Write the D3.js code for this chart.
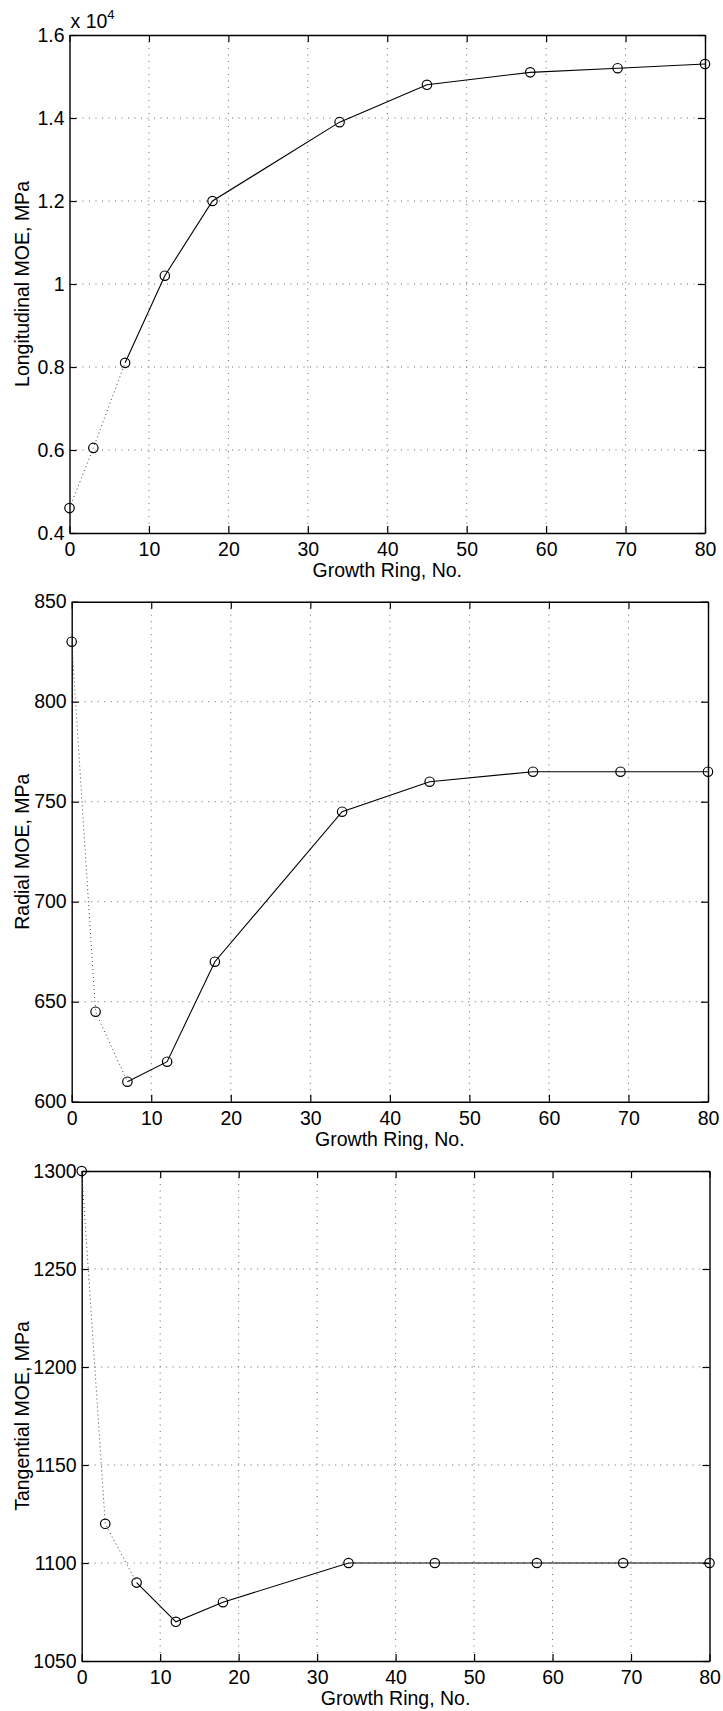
<!DOCTYPE html>
<html><head><meta charset="utf-8">
<script src="https://cdn.jsdelivr.net/npm/d3@7"></script>
<style>
body{margin:0;background:#fff;}
text{font-family:"Liberation Sans",Arial,Helvetica,sans-serif;fill:#000;}
</style></head>
<body>
<svg id="c" width="723" height="1711"></svg>
<script>
const rings = [0, 3, 7, 12, 18, 34, 45, 58, 69, 80];
const longitudinalMOE = [4600, 6050, 8100, 10200, 12000, 13900, 14800, 15100, 15200, 15300];
const radialMOE = [830, 645, 610, 620, 670, 745, 760, 765, 765, 765];
const tangentialMOE = [1300, 1120, 1090, 1070, 1080, 1100, 1100, 1100, 1100, 1100];
const xTicks = [0, 10, 20, 30, 40, 50, 60, 70, 80];
const longTicks = [4000, 6000, 8000, 10000, 12000, 14000, 16000];
const radialTicks = [600, 650, 700, 750, 800, 850];
const tangTicks = [1050, 1100, 1150, 1200, 1250, 1300];
const xLabel = "Growth Ring, No.";
const dottedUntil = 2; // index where dotted part ends (ring 7)

const panels = [
  {box:[69.5,705,35,533], yDom:[4000,16000], yTicks:longTicks, vals:longitudinalMOE,
   yLabel:"Longitudinal MOE, MPa", fmt:d=>d===10000?"1":(d/10000).toFixed(1), exp:true},
  {box:[71.7,708,601.7,1101.7], yDom:[600,850], yTicks:radialTicks, vals:radialMOE,
   yLabel:"Radial MOE, MPa", fmt:d=>String(d)},
  {box:[81.7,709.5,1171,1661], yDom:[1050,1300], yTicks:tangTicks, vals:tangentialMOE,
   yLabel:"Tangential MOE, MPa", fmt:d=>String(d)}
];

const svg = d3.select("#c");
const FS = 19.5;

panels.forEach(p => {
  const [L,R,T,B] = p.box;
  const x = d3.scaleLinear().domain([0,80]).range([L,R]);
  const y = d3.scaleLinear().domain(p.yDom).range([B,T]);
  const g = svg.append("g");

  // grid
  g.append("g").selectAll("line").data(xTicks.slice(1,-1)).join("line")
    .attr("x1",d=>x(d)).attr("x2",d=>x(d)).attr("y1",T).attr("y2",B)
    .attr("stroke","#666").attr("stroke-width",1).attr("stroke-dasharray","1,5.5");
  g.append("g").selectAll("line").data(p.yTicks.slice(1,-1)).join("line")
    .attr("x1",L).attr("x2",R).attr("y1",d=>y(d)).attr("y2",d=>y(d))
    .attr("stroke","#666").attr("stroke-width",1).attr("stroke-dasharray","1,5.5");

  // axes via d3 axis (inner ticks)
  const ax = [
    g.append("g").attr("transform",`translate(0,${B})`).call(d3.axisBottom(x).tickValues(xTicks).tickSizeInner(-7).tickSizeOuter(0).tickPadding(9)),
    g.append("g").attr("transform",`translate(0,${T})`).call(d3.axisTop(x).tickValues(xTicks).tickSizeInner(-7).tickSizeOuter(0).tickFormat("")),
    g.append("g").attr("transform",`translate(${L},0)`).call(d3.axisLeft(y).tickValues(p.yTicks).tickSizeInner(-7).tickSizeOuter(0).tickPadding(5).tickFormat(p.fmt)),
    g.append("g").attr("transform",`translate(${R},0)`).call(d3.axisRight(y).tickValues(p.yTicks).tickSizeInner(-7).tickSizeOuter(0).tickFormat(""))
  ];
  ax.forEach(a => {
    a.select(".domain").attr("stroke","#000").attr("stroke-width",1.4);
    a.selectAll(".tick line").attr("stroke","#000").attr("stroke-width",1.2);
    a.selectAll(".tick text").attr("font-size",FS).attr("font-family","Liberation Sans, Arial, sans-serif").attr("fill","#000");
  });

  const pts = rings.map((r,i)=>[r,p.vals[i]]);
  const line = d3.line().x(d=>x(d[0])).y(d=>y(d[1]));
  g.append("path").attr("d",line(pts.slice(0,dottedUntil+1)))
    .attr("fill","none").attr("stroke","#444").attr("stroke-width",1).attr("stroke-dasharray","1,3");
  g.append("path").attr("d",line(pts.slice(dottedUntil)))
    .attr("fill","none").attr("stroke","#000").attr("stroke-width",1.1);
  g.append("g").selectAll("circle").data(pts).join("circle")
    .attr("cx",d=>x(d[0])).attr("cy",d=>y(d[1])).attr("r",4.7)
    .attr("fill","none").attr("stroke","#000").attr("stroke-width",1.2);

  // labels
  svg.append("text").attr("x",(L+R)/2).attr("y",B+44).attr("text-anchor","middle")
    .attr("font-size",FS).text(xLabel);
  svg.append("text").attr("transform",`translate(29,${(T+B)/2}) rotate(-90)`)
    .attr("text-anchor","middle").attr("font-size",FS).text(p.yLabel);
  if (p.exp) {
    const t = svg.append("text").attr("x",L+1).attr("y",T-7).attr("font-size",FS);
    t.append("tspan").text("x 10");
    t.append("tspan").attr("font-size",13).attr("dy",-9).text("4");
  }
});
</script>
</body></html>
